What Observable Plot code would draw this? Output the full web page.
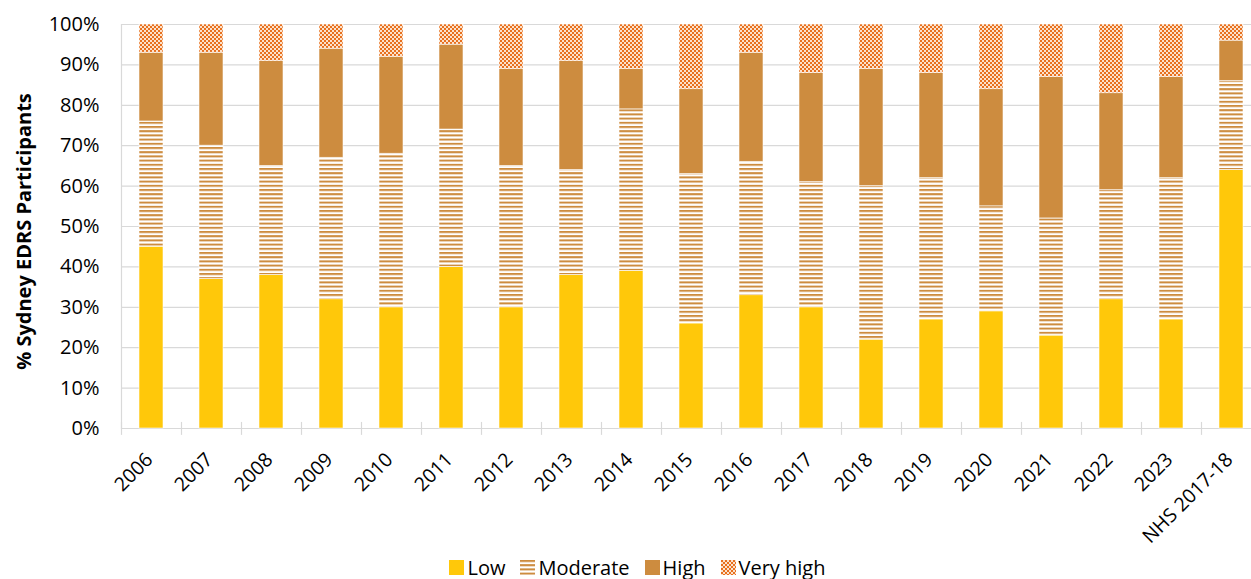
<!DOCTYPE html>
<html>
<head>
<meta charset="utf-8">
<script src="https://cdn.jsdelivr.net/npm/d3@7"></script>
<script src="https://cdn.jsdelivr.net/npm/@observablehq/plot@0.6"></script>
<style>
  html, body { margin: 0; padding: 0; background: #fff; }
  #chart { width: 1251px; }
  .legend { display: flex; justify-content: center; align-items: center; font-family: "Open Sans", "Noto Sans", sans-serif; font-size: 20px; color: #000; height: 29px; margin-top: 3px; padding-left: 24px; }
  .legend .item { display: flex; align-items: center; margin: 0 7.5px; }
  .legend svg { margin-right: 3px; }
</style>
</head>
<body>
<div id="chart"></div>
<script>
const categories = ["2006","2007","2008","2009","2010","2011","2012","2013","2014","2015","2016","2017","2018","2019","2020","2021","2022","2023","NHS 2017-18"];
const series = ["Low","Moderate","High","Very high"];
const low      = [45,37,38,32,30,40,30,38,39,26,33,30,22,27,29,23,32,27,64];
const moderate = [31,33,27,35,38,34,35,26,40,37,33,31,38,35,26,29,27,35,22];
const high     = [17,23,26,27,24,21,24,27,10,21,27,27,29,26,29,35,24,25,10];
const veryHigh = [ 7, 7, 9, 6, 8, 5,11, 9,11,16, 7,12,11,12,16,13,17,13, 4];
const yTicks = [0,10,20,30,40,50,60,70,80,90,100];

const colLow = "#FFC80A", colHigh = "#CD8C3F", colVH = "#E8701E";
const fills = [colLow, "url(#patMod)", colHigh, "url(#patVH)"];
const valuesBySeries = [low, moderate, high, veryHigh];
const data = categories.flatMap((c, i) => series.map((s, j) => ({category: c, series: s, value: valuesBySeries[j][i]})));

const font = '"Open Sans", "Noto Sans", sans-serif';
const W = 1251, H = 550, mL = 121, mT = 24, mB = 122;

const plot = Plot.plot({
  width: W, height: H,
  marginLeft: mL, marginRight: 0, marginTop: mT, marginBottom: mB,
  style: {fontFamily: font, fontSize: "19px", color: "#000", background: "#fff"},
  x: {domain: categories, range: [mL, 1261], paddingInner: 0.6, paddingOuter: 0.3, label: null},
  y: {domain: [0, 100], label: null},
  color: {domain: series, range: fills},
  marks: [
    Plot.gridY(yTicks, {stroke: "#d9d9d9", strokeOpacity: 1, strokeWidth: 1.2}),
    Plot.frame({anchor: "left", stroke: "#d9d9d9", strokeWidth: 1.2}),
    Plot.ruleX(categories, {x: d => d, dx: -30, y1: 1.5, y2: -1.7, stroke: "#d9d9d9", strokeWidth: 1.2}),
    Plot.barY(data, {x: "category", y: "value", fill: "series", stroke: "#fff", strokeWidth: 0.8, strokeOpacity: 0.7}),
    Plot.axisY(yTicks, {tickSize: 0, tickPadding: 22, tickFormat: d => d + "%", fontSize: 20, label: null}),
    Plot.axisX({tickSize: 0, tickRotate: -45, tickPadding: 10, dy: 18, dx: -2, fontSize: 19.5, label: null}),
    Plot.text(["% Sydney EDRS Participants"], {frameAnchor: "left", rotate: -90, dx: -97, dy: 5, textAnchor: "middle", lineAnchor: "middle", fontWeight: "bold", fontSize: 20, fill: "#000"})
  ]
});

const ns = "http://www.w3.org/2000/svg";
const defs = document.createElementNS(ns, "defs");
defs.innerHTML = `
  <pattern id="patMod" patternUnits="userSpaceOnUse" width="4" height="4.2">
    <rect width="4" height="4.2" fill="#fff"/>
    <rect y="0" width="4" height="2" fill="${colHigh}"/>
  </pattern>
  <pattern id="patVH" patternUnits="userSpaceOnUse" width="4" height="4">
    <rect width="4" height="4" fill="#fbe2cc"/>
    <rect x="0" y="0" width="2" height="2" fill="${colVH}"/>
    <rect x="2" y="2" width="2" height="2" fill="${colVH}"/>
  </pattern>`;
plot.prepend(defs);
document.getElementById("chart").appendChild(plot);

const legend = document.createElement("div");
legend.className = "legend";
series.forEach((s, j) => {
  const item = document.createElement("div");
  item.className = "item";
  item.innerHTML = `<svg width="15" height="15"><rect width="15" height="15" fill="${fills[j]}"/></svg><span>${s}</span>`;
  legend.appendChild(item);
});
document.getElementById("chart").appendChild(legend);
</script>
</body>
</html>
